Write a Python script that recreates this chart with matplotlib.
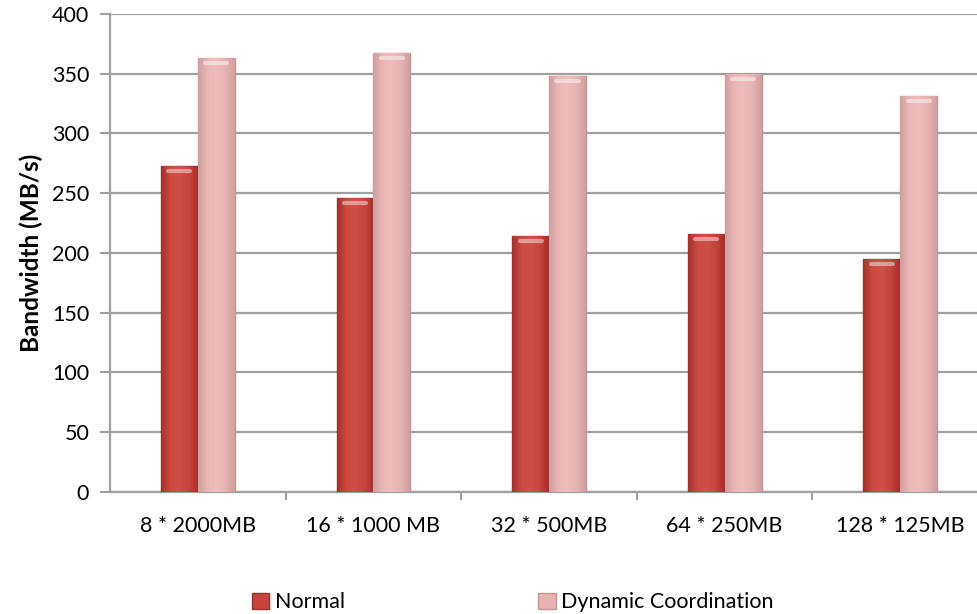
import numpy as np
import matplotlib
matplotlib.use("Agg")
import matplotlib.pyplot as plt
from matplotlib.colors import LinearSegmentedColormap

plt.rcParams["font.family"] = ["Lato", "DejaVu Sans"]

# data
categories = ["8 * 2000MB", "16 * 1000 MB", "32 * 500MB", "64 * 250MB", "128 * 125MB"]
normal = [273, 246, 214, 216, 195]
dynamic = [363, 367, 348, 350, 331]
series_names = ["Normal", "Dynamic Coordination"]

fig = plt.figure(figsize=(9.78, 6.14), dpi=100)
ax = fig.add_axes([0.1125, 0.1987, 0.8978, 0.7785])

x = np.arange(len(categories))
w = 0.21
grid_c = "#a0a0a0"

ax.set_yticks(range(0, 401, 50))
ax.grid(axis="y", color=grid_c, linewidth=1.6, zorder=0)
ax.set_axisbelow(True)

b1 = ax.bar(x - 0.105, normal, w, color="#c5453d", edgecolor="#9c2f29",
            linewidth=1.0, label=series_names[0], zorder=3)
b2 = ax.bar(x + 0.105, dynamic, w, color="#e8b2b2", edgecolor="#c49494",
            linewidth=1.0, label=series_names[1], zorder=3)

# shaded fill: darker at the sides, lighter in the middle
shades = {
    id(b1): ["#a3322c", "#cb4a41", "#cf5047", "#c5453d", "#a3322c"],
    id(b2): ["#cfa0a0", "#ebb6b6", "#eebcbc", "#e8b2b2", "#cfa0a0"],
}
grad = np.linspace(0, 1, 64).reshape(1, -1)
for bars in (b1, b2):
    cmap = LinearSegmentedColormap.from_list("bar", shades[id(bars)])
    for r in bars:
        x0, x1 = r.get_x(), r.get_x() + r.get_width()
        im = ax.imshow(grad, cmap=cmap, aspect="auto", extent=(x0, x1, 0, r.get_height()),
                       zorder=3.5, interpolation="bilinear")
        im.set_clip_path(r)
        # light rim at the top of the bar
        ax.plot([x0 + 0.2 * (x1 - x0), x1 - 0.2 * (x1 - x0)], [r.get_height() - 4] * 2,
                color="white", alpha=0.45, linewidth=3, solid_capstyle="round", zorder=4)

ax.set_xlim(-0.5, len(categories) - 0.5)
ax.set_ylim(0, 400)

# x ticks sit on the group boundaries, labels in the middle
ax.set_xticks(x)
ax.set_xticklabels(categories, fontsize=15.5)
ax.set_xticks(np.arange(0.5, len(categories) - 0.5), minor=True)
ax.tick_params(axis="x", which="major", length=0, pad=17)
ax.tick_params(axis="x", which="minor", length=6, width=1.5, color=grid_c)
ax.tick_params(axis="y", length=7, width=1.5, color=grid_c, labelsize=15.5, pad=8)

for s in ("top", "right"):
    ax.spines[s].set_visible(False)
for s in ("left", "bottom"):
    ax.spines[s].set_color(grid_c)
    ax.spines[s].set_linewidth(1.6)

ax.set_ylabel("Bandwidth (MB/s)", fontsize=17.5, fontweight="bold", labelpad=6)

fig.legend(handles=[b1, b2], labels=series_names, loc="center left",
           bbox_to_anchor=(252 / 978, 0.019), ncol=2, frameon=False,
           fontsize=15.5, handlelength=0.8, handleheight=0.8, borderpad=0,
           borderaxespad=0, handletextpad=0.25, columnspacing=9.0)

fig.savefig("out.png", dpi=100)
